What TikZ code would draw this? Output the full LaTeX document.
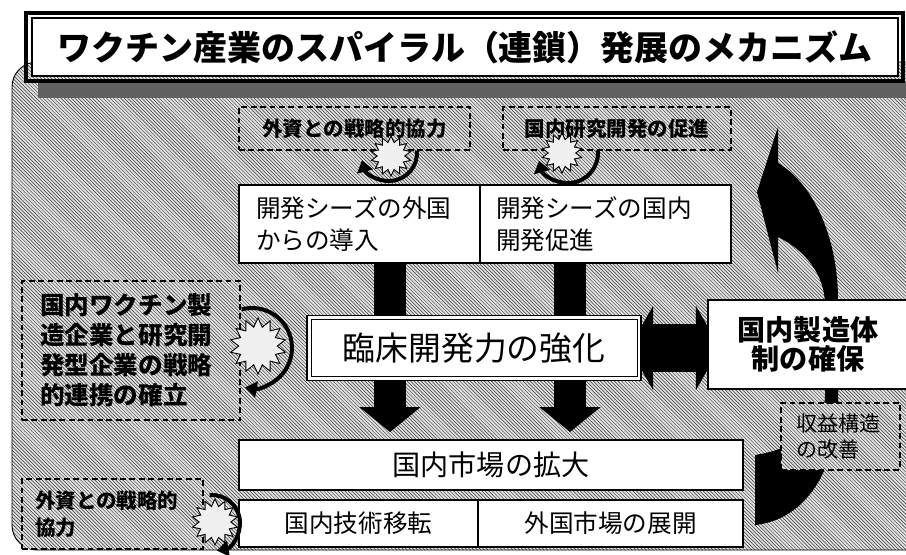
\documentclass[tikz,border=0pt]{standalone}
\usepackage{fontspec}
\setmainfont{Noto Sans CJK JP}
\usetikzlibrary{shapes.geometric,arrows.meta,patterns}
\newlength\upx
\setlength\upx{0.03cm}
\pgfdeclarelayer{backlayer}
\pgfdeclarelayer{arrowlayer}
\pgfsetlayers{backlayer,arrowlayer,main}
\begin{document}
\begin{tikzpicture}[x=0.03cm,y=-0.03cm,
  bg/.style={preaction={fill=gray!22}, pattern=north west lines, pattern color=black!80},
  wbox/.style={draw=black, line width=1.3pt, fill=white, inner sep=0pt, outer sep=0pt},
  dbox/.style={draw=black, line width=1.5pt, dash pattern=on 5pt off 3pt, bg, inner sep=0pt, outer sep=0pt},
  burst/.style={star, star points=14, star point ratio=1.45, draw=black, line width=0.8pt, fill=gray!12, inner sep=0pt},
  cyc/.style={line width=3.4pt, -{Triangle[width=13.6pt,length=10pt]}},
  fatv/.style={line width=27.3pt, -{Triangle[width=51.2pt,length=21.3pt]}},
  fath/.style={line width=41pt, {Triangle[width=70.8pt,length=20.5pt]}-{Triangle[width=70.8pt,length=20.5pt]}},
  ftitle/.style={font=\fontsize{29}{33}\selectfont\bfseries},
  fbig/.style={font=\fontsize{28}{32}\selectfont},
  fmfg/.style={font=\fontsize{24}{25}\selectfont\bfseries},
  fmid/.style={font=\fontsize{24}{28}\selectfont},
  fbox/.style={font=\fontsize{21}{27.3}\selectfont},
  fleft/.style={font=\fontsize{21}{25.6}\selectfont\bfseries},
  fsmall/.style={font=\fontsize{17.5}{23}\selectfont\bfseries},
  frev/.style={font=\fontsize{18}{23}\selectfont},
]
\useasboundingbox (0,0) rectangle (906,554);
\clip (0,0) rectangle (906,554);

% background panel
\begin{pgfonlayer}{backlayer}
\path[bg, draw=black, line width=0.8pt, rounded corners=0.75cm] (12,62) rectangle (950,550);
\fill[black!62] (38,81) rectangle (910,98);
\end{pgfonlayer}

% title
\node[wbox, line width=1pt, minimum width=866\upx, minimum height=58\upx, ftitle] (title) at (465,47) {ワクチン産業のスパイラル（連鎖）発展のメカニズム};
\draw[line width=2.6pt] ([shift={(-6,-5)}]title.north west) rectangle ([shift={(5,5)}]title.south east);

% boxes
\node[wbox, minimum width=504\upx, minimum height=50\upx, fmid] (market) at (491,465) {国内市場の拡大};
\node[wbox, minimum width=239\upx, minimum height=47\upx, fbox] (tech) at (358.5,523.5) {国内技術移転};
\node[wbox, minimum width=265\upx, minimum height=47\upx, fbox] (foreign) at (610.5,523.5) {外国市場の展開};
\node[wbox, text width=207\upx, inner xsep=17\upx, minimum height=78\upx, align=left, fbox] (b1) at (359.5,224) {開発シーズの外国\\からの導入};
\node[wbox, text width=219\upx, inner xsep=16\upx, minimum height=78\upx, align=left, fbox] (b2) at (605.5,224) {開発シーズの国内\\開発促進};
\node[wbox, line width=1.6pt, minimum width=334\upx, minimum height=65\upx, fbig] (mid) at (474,348) {臨床開発力の強化};
\draw[line width=0.8pt] ([shift={(4,4)}]mid.north west) rectangle ([shift={(-4,-4)}]mid.south east);
\node[wbox, minimum width=200\upx, minimum height=89\upx, align=center, fmfg] (mfg) at (808,344.5) {国内製造体\\制の確保};

% arrows (drawn under the boxes)
\begin{pgfonlayer}{arrowlayer}
\fill[black] (778,127) -- (757,192) -- (778,273) -- (778,237)
  .. controls (805,250) and (825,275) .. (825,305) -- (825,395)
  .. controls (825,425) and (800,448) .. (755,455) -- (755,525)
  .. controls (805,520) and (838,470) .. (838,400) -- (838,300)
  .. controls (838,240) and (815,185) .. (778,163) -- cycle;
\coordinate (x1) at (390,0);
\coordinate (x2) at (570,0);
\draw[fatv, shorten >=8\upx] (b1.south -| x1) -- (market.north -| x1);
\draw[fatv, shorten >=8\upx] (b2.south -| x2) -- (market.north -| x2);
\draw[fath, shorten <=-12\upx, shorten >=-12\upx] (mid.east) -- (mfg.west |- mid.east);
\end{pgfonlayer}

% dashed boxes
\node[dbox, minimum width=231\upx, minimum height=43\upx, fsmall] (d1) at (354.5,128.5) {外資との戦略的協力};
\node[dbox, minimum width=228\upx, minimum height=43\upx, fsmall] (d2) at (617,128.5) {国内研究開発の促進};
\node[dbox, text width=182\upx, inner xsep=18\upx, minimum height=139\upx, align=left, fleft] (dl) at (131,350.5) {国内ワクチン製\\造企業と研究開\\発型企業の戦略\\的連携の確立};
\node[dbox, text width=155\upx, inner xsep=13\upx, minimum height=70\upx, align=left, fsmall] (dbl) at (112.5,514) {外資との戦略的\\協力};
\node[dbox, text width=88\upx, inner xsep=15.5\upx, minimum height=67\upx, align=left, frev] (drev) at (840.5,436.5) {収益構造\\の改善};

% bursts and circular arrows
\node[burst, minimum size=40\upx] (s1) at (391,156) {};
\node[burst, minimum size=40\upx] (s2) at (562,153) {};
\node[burst, minimum size=56\upx] (s3) at (258,346) {};
\node[burst, minimum size=46\upx] (s4) at (215,522) {};
\coordinate (c1) at (389,153);
\coordinate (c2) at (568,153);
\coordinate (c3) at (252,348);
\coordinate (c4) at (212,523);
\draw[cyc] ([shift={(-5:28)}]c1) arc[start angle=-5, end angle=165, radius=28];
\draw[cyc] ([shift={(-5:30)}]c2) arc[start angle=-5, end angle=165, radius=30];
\draw[cyc] ([shift={(-105:40)}]c3) arc[start angle=-105, end angle=100, radius=40];
\draw[cyc] ([shift={(-95:28)}]c4) arc[start angle=-95, end angle=80, radius=28];
\end{tikzpicture}
\end{document}
